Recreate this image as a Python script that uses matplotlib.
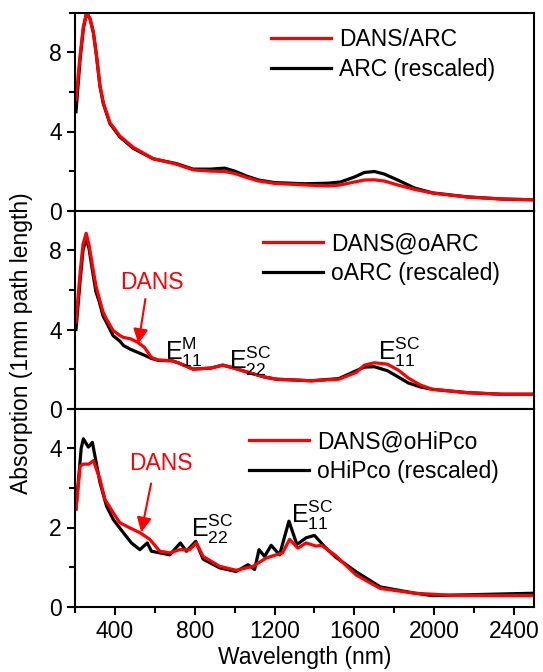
import numpy as np
import matplotlib
matplotlib.use("Agg")
from matplotlib import pyplot as plt
from matplotlib.ticker import MultipleLocator

plt.rcParams['font.family'] = ['Liberation Sans', 'DejaVu Sans']
plt.rcParams['mathtext.fontset'] = 'custom'
plt.rcParams['mathtext.rm'] = 'Liberation Sans'
plt.rcParams['mathtext.it'] = 'Liberation Sans'

# panel 1: DANS/ARC vs ARC
wl_arc = [205, 225, 242, 258, 275, 292, 308, 325, 342, 375, 425, 492, 592, 708, 792, 880, 950,
          1000, 1060, 1120, 1200, 1350, 1470, 1530, 1600, 1650, 1700, 1750, 1817, 1900, 1991,
          2165, 2339, 2500]
dans_arc = [5.6, 7.8, 9.3, 10.0, 9.7, 9.0, 7.8, 6.3, 5.45, 4.45, 3.77, 3.2, 2.63, 2.35, 2.06,
            2.0, 1.98, 1.88, 1.68, 1.5, 1.38, 1.3, 1.25, 1.3, 1.45, 1.55, 1.56, 1.5, 1.3, 1.08,
            0.89, 0.69, 0.59, 0.55]
arc = [5.0, 7.6, 9.2, 10.0, 9.7, 9.0, 7.8, 6.3, 5.4, 4.4, 3.72, 3.15, 2.62, 2.38, 2.1,
       2.1, 2.15, 2.0, 1.75, 1.55, 1.42, 1.36, 1.39, 1.45, 1.7, 1.93, 1.98, 1.85, 1.55, 1.15,
       0.9, 0.7, 0.59, 0.55]

# panel 2: DANS@oARC vs oARC
wl_oarc = [205, 225, 240, 256, 270, 287, 305, 322, 340, 357, 391, 426, 443, 478, 513, 548, 583,
           617, 687, 722, 791, 880, 940, 980, 1080, 1150, 1209, 1383, 1522, 1609, 1650, 1700,
           1765, 1820, 1870, 1930, 1991, 2165, 2339, 2500]
dans_oarc = [4.37, 6.8, 8.3, 8.86, 8.3, 7.25, 6.2, 5.56, 4.9, 4.54, 3.95, 3.69, 3.6, 3.53, 3.36,
             3.1, 2.59, 2.46, 2.42, 2.3, 2.0, 2.05, 2.2, 2.1, 1.8, 1.6, 1.49, 1.41, 1.49, 1.83,
             2.2, 2.32, 2.25, 1.95, 1.55, 1.2, 0.98, 0.81, 0.73, 0.73]
oarc = [4.0, 6.4, 8.0, 8.6, 8.1, 7.0, 5.9, 5.39, 4.7, 4.37, 3.69, 3.4, 3.19, 3.0, 2.85,
        2.7, 2.54, 2.44, 2.42, 2.3, 2.0, 2.05, 2.2, 2.1, 1.8, 1.6, 1.49, 1.41, 1.52, 1.92,
        2.1, 2.12, 1.92, 1.6, 1.3, 1.1, 0.98, 0.81, 0.73, 0.73]

# panel 3: DANS@oHiPco vs oHiPco
wl_red3 = [205, 226, 242, 270, 292, 325, 350, 392, 425, 475, 525, 575, 625, 675, 725, 775, 808,
           842, 925, 1008, 1092, 1158, 1208, 1240, 1275, 1317, 1358, 1408, 1435, 1504, 1609,
           1730, 1904, 2078, 2500]
dans_hipco = [2.47, 3.56, 3.6, 3.6, 3.69, 3.22, 2.71, 2.37, 2.12, 1.99, 1.87, 1.70, 1.40, 1.36,
              1.44, 1.44, 1.61, 1.27, 1.02, 0.92, 1.02, 1.23, 1.31, 1.36, 1.70, 1.48, 1.61,
              1.53, 1.55, 1.30, 0.80, 0.46, 0.34, 0.29, 0.28]
wl_blk3 = [205, 231, 242, 267, 287, 325, 358, 392, 442, 483, 525, 562, 583, 625, 675, 728, 758,
           805, 842, 925, 1008, 1067, 1100, 1122, 1150, 1183, 1225, 1272, 1312, 1358, 1400,
           1452, 1504, 1609, 1730, 1904, 1991, 2500]
hipco = [2.47, 4.0, 4.24, 4.03, 4.15, 3.14, 2.54, 2.2, 1.87, 1.61, 1.44, 1.61, 1.40, 1.36, 1.31,
         1.61, 1.40, 1.65, 1.2, 0.98, 0.89, 1.06, 0.94, 1.44, 1.27, 1.55, 1.31, 2.16, 1.57,
         1.74, 1.80, 1.51, 1.26, 0.88, 0.50, 0.34, 0.28, 0.34]

W, H = 543, 672
fig = plt.figure(figsize=(W / 100, H / 100), dpi=100)

left = 75 / W
width = (534 - 75) / W
bot = 1 - 606.7 / H
ph = (606.7 - 12.7) / H / 3

axes = []
for i in range(3):
    ax = fig.add_axes([left, bot + (2 - i) * ph, width, ph])
    axes.append(ax)

panels = [
    (wl_arc, dans_arc, wl_arc, arc, 'DANS/ARC', 'ARC (rescaled)', 10, 4, 2, 0.428, 0.787),
    (wl_oarc, dans_oarc, wl_oarc, oarc, 'DANS@oARC', 'oARC (rescaled)', 10, 4, 2, 0.41, 0.758),
    (wl_red3, dans_hipco, wl_blk3, hipco, 'DANS@oHiPco', 'oHiPco (rescaled)', 5, 2, 1, 0.38, 0.757),
]

for ax, (xr, yr, xb, yb, lr, lb, ymax, maj, mnr, lx, ly) in zip(axes, panels):
    lk, = ax.plot(xb, yb, color='black', lw=2.3)
    lrd, = ax.plot(xr, yr, color='red', lw=2.3)
    ax.set_xlim(200, 2500)
    ax.set_ylim(0, ymax)
    ax.xaxis.set_major_locator(MultipleLocator(400))
    ax.xaxis.set_minor_locator(MultipleLocator(200))
    ax.yaxis.set_major_locator(MultipleLocator(maj))
    ax.yaxis.set_minor_locator(MultipleLocator(mnr))
    ax.tick_params(which='both', direction='out', width=1.5, labelsize=16.5, top=False, right=False)
    ax.tick_params(which='major', length=6)
    ax.tick_params(which='minor', length=4)
    for s in ax.spines.values():
        s.set_linewidth(1.5)
    ax.legend([lrd, lk], [lr, lb], loc='center left', bbox_to_anchor=(lx, ly), frameon=False,
              fontsize=16.5, handlelength=2.6, handletextpad=0.35, labelspacing=0.3,
              borderpad=0, borderaxespad=0)

axes[0].tick_params(labelbottom=False)
axes[1].tick_params(labelbottom=False)

axes[2].set_xlabel('Wavelength (nm)', fontsize=16.5)
axes[2].xaxis.set_label_coords(0.5, -0.2)
fig.text(0.04, 0.49, 'Absorption (1mm path length)', rotation=90, ha='center', va='center',
         fontsize=16.5)

# annotations
ax = axes[1]
ax.text(650, 2.44, r'$\mathrm{E}^{\mathrm{M}}_{11}$', fontsize=18, ha='left', va='baseline')
ax.text(972, 2.02, r'$\mathrm{E}^{\mathrm{SC}}_{22}$', fontsize=18, ha='left', va='baseline')
ax.text(1719, 2.44, r'$\mathrm{E}^{\mathrm{SC}}_{11}$', fontsize=18, ha='left', va='baseline')
ax.text(424, 6.38, 'DANS', color='red', fontsize=16.5, ha='left', va='center')
ax.annotate('', xy=(515, 3.14), xytext=(555, 5.68),
            arrowprops=dict(arrowstyle='-|>', color='red', lw=1.5, mutation_scale=22))

ax = axes[2]
ax.text(781, 1.75, r'$\mathrm{E}^{\mathrm{SC}}_{22}$', fontsize=18, ha='left', va='baseline')
ax.text(1282, 2.12, r'$\mathrm{E}^{\mathrm{SC}}_{11}$', fontsize=18, ha='left', va='baseline')
ax.text(472, 3.62, 'DANS', color='red', fontsize=16.5, ha='left', va='center')
ax.annotate('', xy=(529, 1.81), xytext=(584, 3.18),
            arrowprops=dict(arrowstyle='-|>', color='red', lw=1.5, mutation_scale=22))

fig.savefig('out.png', dpi=100)
